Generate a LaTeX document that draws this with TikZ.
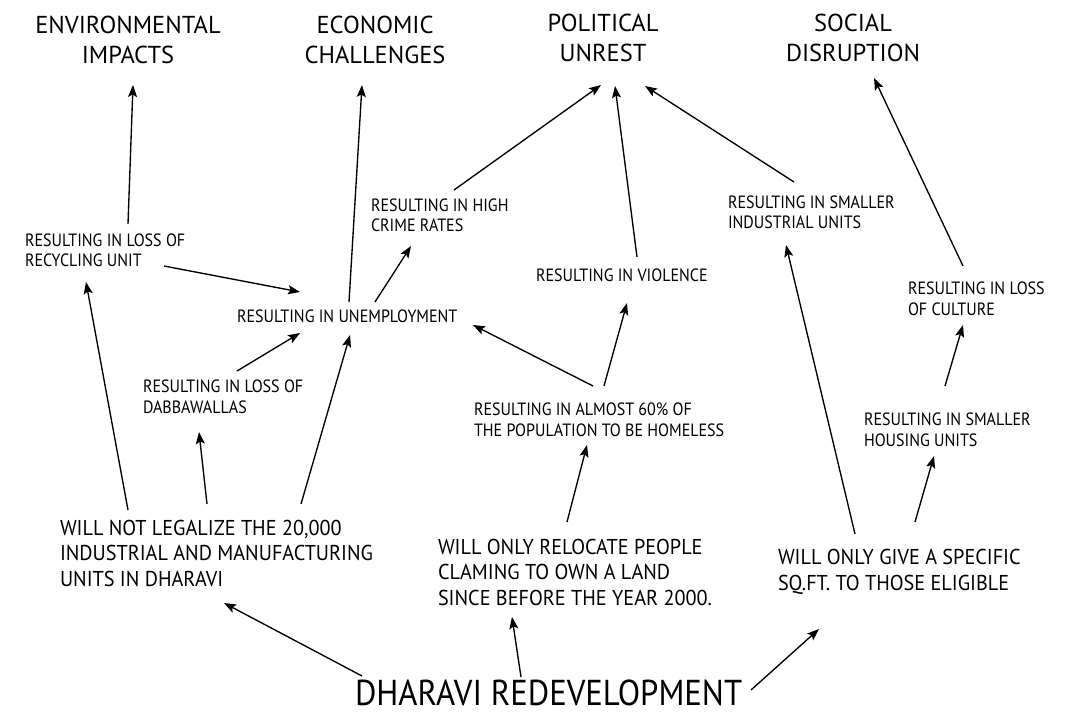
\documentclass[tikz,border=0pt]{standalone}
\usepackage{fontspec}
\setmainfont{PT Sans}
\newfontfamily\smallfont[FakeStretch=0.9]{PT Sans}
\newfontfamily\medfont[FakeStretch=0.94]{PT Sans}
\newfontfamily\bigfont[FakeStretch=0.91]{PT Sans}
\usetikzlibrary{arrows.meta}
\tikzset{
  lbl/.style={inner sep=0pt, outer sep=0pt, align=left, anchor=base west},
  small/.style={lbl, font=\smallfont\fontsize{17.8}{20.5}\selectfont},
  med/.style={lbl, font=\medfont\fontsize{21.5}{25.5}\selectfont},
  head/.style={inner sep=0pt, outer sep=0pt, align=center, anchor=base, font=\fontsize{24.5}{30}\selectfont},
  big/.style={lbl, font=\bigfont\fontsize{36}{40}\selectfont},
  arr/.style={line width=1.35pt, -{Stealth[length=12pt, width=9pt, inset=2.5pt]}}
}
\begin{document}
\begin{tikzpicture}[x=1pt, y=-1pt]
\useasboundingbox[fill=white] (0,0) rectangle (1074,714);
% headings (anchor = baseline of the last line)
\node[head] (env) at (128,64) {ENVIRONMENTAL\\IMPACTS};
\node[head] (eco) at (375,64) {ECONOMIC\\CHALLENGES};
\node[head] (pol) at (603,62) {POLITICAL\\UNREST};
\node[head] (soc) at (853,62) {SOCIAL\\DISRUPTION};
% small labels
\node[small] (rec) at (25,267) {RESULTING IN LOSS OF\\RECYCLING UNIT};
\node[small] (crime) at (371,232) {RESULTING IN HIGH\\CRIME RATES};
\node[small] (unemp) at (237,323) {RESULTING IN UNEMPLOYMENT};
\node[small] (dabba) at (143,413) {RESULTING IN LOSS OF\\DABBAWALLAS};
\node[small] (viol) at (536,282) {RESULTING IN VIOLENCE};
\node[small] (sind) at (728,229) {RESULTING IN SMALLER\\INDUSTRIAL UNITS};
\node[small] (cult) at (908,315) {RESULTING IN LOSS\\OF CULTURE};
\node[small] (home) at (474,436) {RESULTING IN ALMOST 60\% OF\\THE POPULATION TO BE HOMELESS};
\node[small] (hous) at (864,446) {RESULTING IN SMALLER\\HOUSING UNITS};
% medium labels
\node[med] (wnot) at (60,586) {WILL NOT LEGALIZE THE 20,000\\INDUSTRIAL AND MANUFACTURING\\UNITS IN DHARAVI};
\node[med] (reloc) at (438,605) {WILL ONLY RELOCATE PEOPLE\\CLAMING TO OWN A LAND\\SINCE BEFORE THE YEAR 2000.};
\node[med] (sqft) at (778,590) {WILL ONLY GIVE A SPECIFIC\\SQ.FT. TO THOSE ELIGIBLE};
% root
\node[big] (dhar) at (355,705) {DHARAVI REDEVELOPMENT};
% connector ends
\coordinate (env-in) at (133,85);
\coordinate (eco-in) at (362,85);
\coordinate (pol-in1) at (601,85);
\coordinate (pol-in2) at (615,86);
\coordinate (pol-in3) at (645,86);
\coordinate (soc-in) at (874,78);
\coordinate (rec-out) at (128,224);
\coordinate (rec-out2) at (164,266);
\coordinate (rec-in) at (86,282);
\coordinate (unemp-in1) at (300,292);
\coordinate (unemp-in2) at (300,333);
\coordinate (unemp-in3) at (350,335);
\coordinate (unemp-in4) at (473,325);
\coordinate (unemp-out1) at (349,302);
\coordinate (unemp-out2) at (375,302);
\coordinate (crime-in) at (411,246);
\coordinate (crime-out) at (454,190);
\coordinate (dabba-out) at (237,371);
\coordinate (dabba-in) at (199,432);
\coordinate (viol-out) at (637,257);
\coordinate (viol-in) at (627,303);
\coordinate (sind-out) at (794,182);
\coordinate (sind-in) at (786,245);
\coordinate (home-out1) at (593,386);
\coordinate (home-out2) at (604,386);
\coordinate (home-in) at (587,445);
\coordinate (cult-out) at (963,266);
\coordinate (cult-in) at (963,325);
\coordinate (hous-out) at (945,386);
\coordinate (hous-in) at (934,456);
\coordinate (wnot-out1) at (128,510);
\coordinate (wnot-out2) at (207,504);
\coordinate (wnot-out3) at (301,504);
\coordinate (wnot-in) at (224,603);
\coordinate (reloc-out) at (567,522);
\coordinate (reloc-in) at (512,617);
\coordinate (sqft-out1) at (855,534);
\coordinate (sqft-out2) at (915,522);
\coordinate (sqft-in) at (819,629);
\coordinate (dhar-out1) at (362,676);
\coordinate (dhar-out2) at (521,677);
\coordinate (dhar-out3) at (751,690);
% connectors
\draw[arr] (rec-out) -- (env-in);
\draw[arr] (rec-out2) -- (unemp-in1);
\draw[arr] (wnot-out1) -- (rec-in);
\draw[arr] (dabba-out) -- (unemp-in2);
\draw[arr] (wnot-out3) -- (unemp-in3);
\draw[arr] (wnot-out2) -- (dabba-in);
\draw[arr] (unemp-out1) -- (eco-in);
\draw[arr] (unemp-out2) -- (crime-in);
\draw[arr] (crime-out) -- (pol-in1);
\draw[arr] (viol-out) -- (pol-in2);
\draw[arr] (sind-out) -- (pol-in3);
\draw[arr] (home-out1) -- (unemp-in4);
\draw[arr] (home-out2) -- (viol-in);
\draw[arr] (reloc-out) -- (home-in);
\draw[arr] (dhar-out2) -- (reloc-in);
\draw[arr] (dhar-out1) -- (wnot-in);
\draw[arr] (dhar-out3) -- (sqft-in);
\draw[arr] (sqft-out1) -- (sind-in);
\draw[arr] (sqft-out2) -- (hous-in);
\draw[arr] (hous-out) -- (cult-in);
\draw[arr] (cult-out) -- (soc-in);
\end{tikzpicture}
\end{document}
